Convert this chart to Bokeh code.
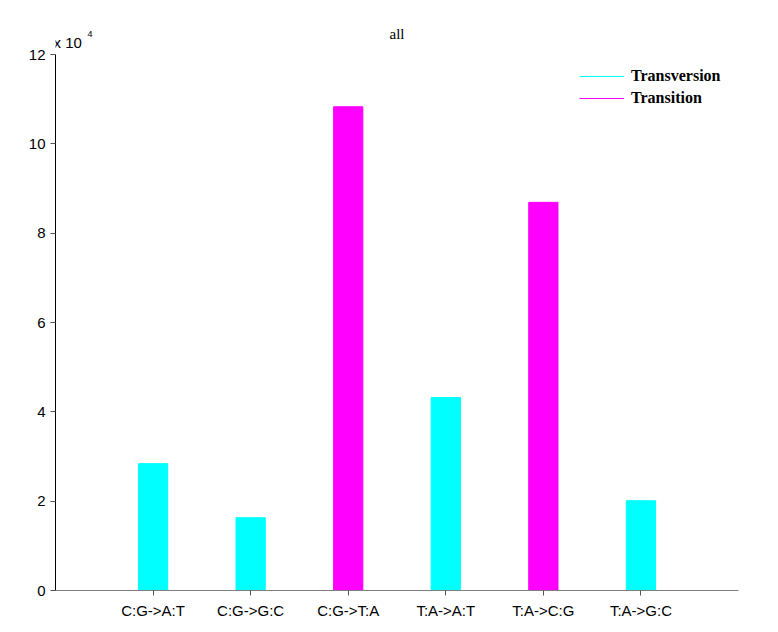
from bokeh.plotting import figure
from bokeh.models import ColumnDataSource, Label, FixedTicker, CustomJSTickFormatter, Range1d
from bokeh.embed import file_html
from bokeh.resources import INLINE

categories = ["C:G->A:T", "C:G->G:C", "C:G->T:A", "T:A->A:T", "T:A->C:G", "T:A->G:C"]
counts = [28400, 16300, 108300, 43200, 86900, 20100]
kinds = ["Transversion", "Transversion", "Transition", "Transversion", "Transition", "Transversion"]
y_ticks = [0, 20000, 40000, 60000, 80000, 100000, 120000]
y_max = 120000

color_map = {"Transversion": "#00FFFF", "Transition": "#FF00FF"}
xs = list(range(1, len(categories) + 1))
src = ColumnDataSource(dict(x=xs, top=counts, color=[color_map[k] for k in kinds]))

# frame geometry (pixels)
frame_top, frame_axis_top, frame_bottom = 28, 54, 590
y_end = y_max * (frame_bottom - frame_top) / (frame_bottom - frame_axis_top)

p = figure(width=770, height=624, output_backend="svg", toolbar_location=None,
           x_range=Range1d(0, 7), y_range=Range1d(0, y_end),
           min_border_left=55, min_border_right=32, min_border_top=frame_top, min_border_bottom=34)
p.vbar(x="x", top="top", width=0.3, color="color", source=src)

nan = float("nan")
p.line([nan, nan], [nan, nan], color="#00FFFF", line_width=1, legend_label="Transversion")
p.line([nan, nan], [nan, nan], color="#FF00FF", line_width=1, legend_label="Transition")

p.xgrid.visible = False
p.ygrid.visible = False
p.outline_line_color = None

p.xaxis.ticker = FixedTicker(ticks=xs)
p.xaxis.major_label_overrides = {i: c for i, c in zip(xs, categories)}
p.yaxis.ticker = FixedTicker(ticks=y_ticks)
p.yaxis.bounds = (0, y_max)
p.yaxis.formatter = CustomJSTickFormatter(code="return (tick/10000).toString();")

for ax in (p.xaxis[0], p.yaxis[0]):
    ax.major_label_text_font = "Liberation Sans"
    ax.major_label_text_font_size = "15px"
    ax.major_label_text_color = "black"
    ax.major_tick_out = 5
    ax.major_tick_in = 0
    ax.minor_tick_out = 0
    ax.minor_tick_in = 0
    ax.major_tick_line_color = "#555555"
p.xaxis.axis_line_color = "#808080"
p.yaxis.axis_line_color = "black"
p.xaxis.major_label_standoff = 6
p.yaxis.major_label_standoff = 5

p.legend.border_line_color = None
p.legend.background_fill_alpha = 0
p.legend.label_text_font = "Liberation Serif"
p.legend.label_text_font_size = "16px"
p.legend.label_text_font_style = "bold"
p.legend.label_text_color = "black"
p.legend.glyph_width = 45
p.legend.glyph_height = 20
p.legend.label_standoff = 7
p.legend.spacing = 2
p.legend.padding = 8
p.legend.margin = 0
p.legend.location = (524, 482)

p.add_layout(Label(x=3.5, y=y_max, text="all", y_offset=21, text_align="center",
                   text_baseline="middle", text_font="Liberation Serif",
                   text_font_size="15px", text_color="black"))
p.add_layout(Label(x=0, y=y_max, text="x 10", x_offset=-2, y_offset=12,
                   text_baseline="middle", text_font="Liberation Sans",
                   text_font_size="15px", text_color="black"))
p.add_layout(Label(x=0, y=y_max, text="4", x_offset=32, y_offset=21,
                   text_baseline="middle", text_font="Liberation Sans",
                   text_font_size="9px", text_color="black"))

open("out.html", "w").write(file_html(p, INLINE))
